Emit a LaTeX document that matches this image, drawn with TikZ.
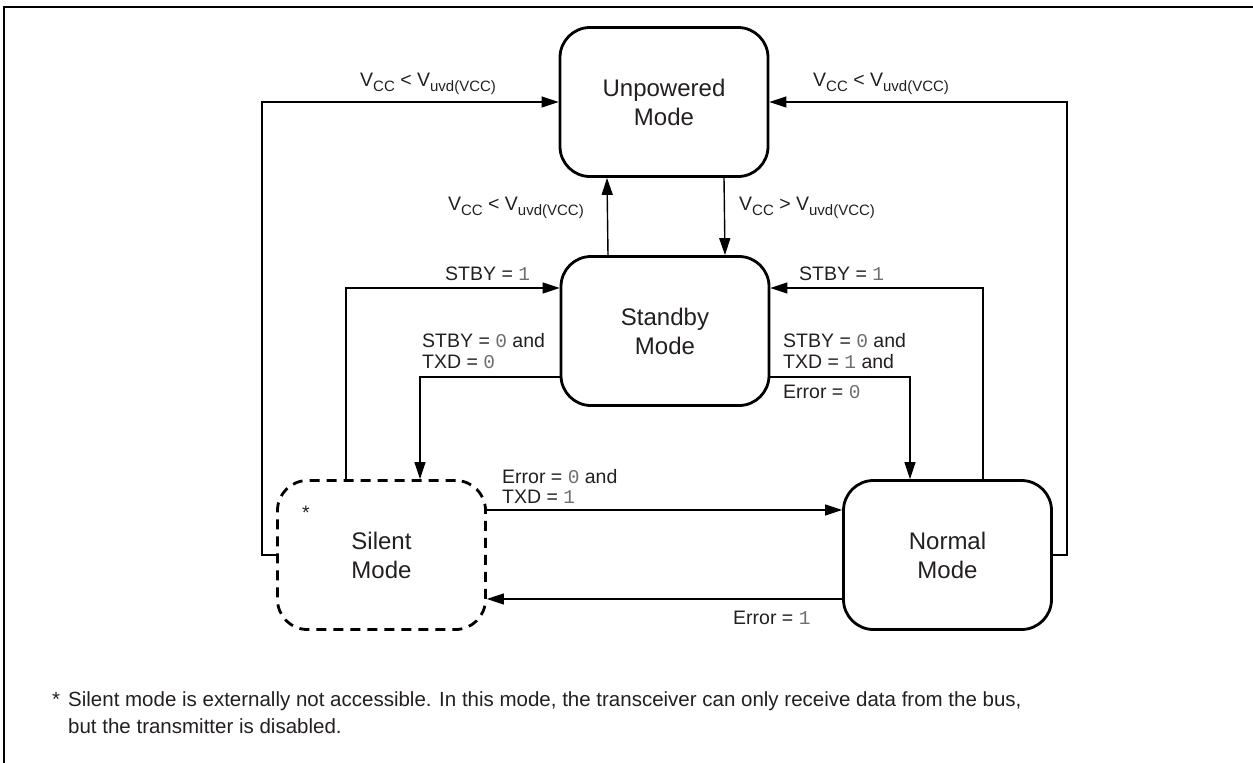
\documentclass[tikz,border=0pt]{standalone}
\usepackage{fontspec}
\setmainfont{Liberation Sans}
\newfontfamily\courfont{Liberation Mono}
\usetikzlibrary{arrows.meta}
\definecolor{txt}{HTML}{231F20}
\definecolor{dig}{HTML}{6D6E71}
\newcommand\dg[1]{{\courfont\color{dig}#1}}
\newcommand\lsb[1]{\raisebox{-5.5pt}{\fontsize{15}{15}\selectfont #1}}
\begin{document}
\begin{tikzpicture}[x=1pt,y=-1pt,
  modebox/.style={draw, line width=2.8pt, rounded corners=30pt, minimum width=208pt,
    minimum height=149pt, align=center, font=\fontsize{24}{29}\selectfont, text=txt, inner sep=0pt},
  conn/.style={line width=1.4pt, -{Triangle[length=17pt,width=11pt]}},
  lab/.style={font=\fontsize{19.5}{22}\selectfont, text=txt, inner sep=0pt},
  foot/.style={font=\fontsize{20.5}{24}\selectfont, text=txt, inner sep=0pt}]
\useasboundingbox (0,0) rectangle (1253,763);
% frame
\draw[line width=2pt] (4,763) -- (4,7) -- (1253,7);
% states
\node[modebox] (unp) at (664,102) {Unpowered\\Mode};
\node[modebox] (stb) at (665,331) {Standby\\Mode};
\node[modebox, dashed, dash pattern=on 10pt off 7pt] (sil) at (381.5,555) {Silent\\Mode};
\node[modebox] (nor) at (947.5,555) {Normal\\Mode};
\node[lab] (star) at (306,513) {*};
% connectors
\draw[conn] (sil.west) -- ++(-14,0) |- (unp.west);
\draw[conn] (nor.east) -- ++(14,0) |- (unp.east);
\draw[conn] ([xshift=-57pt]stb.north) -- ([xshift=-57pt]unp.south);
\draw[conn] ([xshift=60pt]unp.south) -- ([xshift=60pt]stb.north);
\draw[conn] ([xshift=-35.5pt]sil.north) |- ([yshift=43pt]stb.west);
\draw[conn] ([yshift=-46pt]stb.west) -| ([xshift=38.5pt]sil.north);
\draw[conn] ([yshift=-46pt]stb.east) -| ([xshift=-37.5pt]nor.north);
\draw[conn] ([xshift=35.5pt]nor.north) |- ([yshift=43pt]stb.east);
\draw[conn] ([yshift=45pt]sil.east) -- ([yshift=45pt]nor.west);
\draw[conn] ([yshift=-44pt]nor.west) -- ([yshift=-44pt]sil.east);
% labels
\node[lab, anchor=base west] (l1) at (360,86) {V\lsb{CC} < V\lsb{uvd(VCC)}};
\node[lab, anchor=base west] (l2) at (813,86) {V\lsb{CC} < V\lsb{uvd(VCC)}};
\node[lab, anchor=base east] (l3) at (584,210) {V\lsb{CC} < V\lsb{uvd(VCC)}};
\node[lab, anchor=base west] (l4) at (739,210) {V\lsb{CC} > V\lsb{uvd(VCC)}};
\node[lab, anchor=base west] (l5) at (445,280) {STBY = \dg{1}};
\node[lab, anchor=base west] (l6) at (799,280) {STBY = \dg{1}};
\node[lab, anchor=base west] (l7) at (422,347) {STBY = \dg{0} and};
\node[lab, anchor=base west] (l8) at (422,368) {TXD = \dg{0}};
\node[lab, anchor=base west] (l9) at (783,347) {STBY = \dg{0} and};
\node[lab, anchor=base west] (l10) at (783,368) {TXD = \dg{1} and};
\node[lab, anchor=base west] (l11) at (783,398) {Error = \dg{0}};
\node[lab, anchor=base west] (l12) at (502,483) {Error = \dg{0} and};
\node[lab, anchor=base west] (l13) at (502,503) {TXD = \dg{1}};
\node[lab, anchor=base west] (l14) at (733,624) {Error = \dg{1}};
% footnote
\node[foot, anchor=base west] (fstar) at (52,706) {*};
\node[foot, anchor=base west] (f1) at (68,706) {Silent mode is externally not accessible. In this mode, the transceiver can only receive data from the bus,};
\node[foot, anchor=base west] (f2) at (68,733) {but the transmitter is disabled.};
\end{tikzpicture}
\end{document}
